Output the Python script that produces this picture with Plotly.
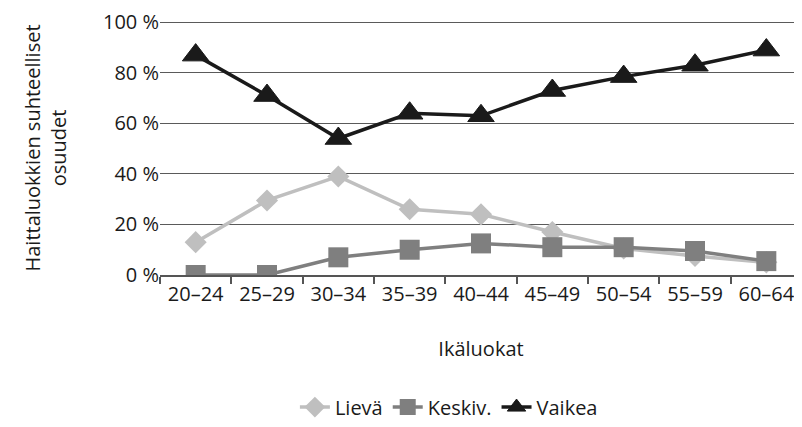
import plotly.graph_objects as go

categories = ["20–24", "25–29", "30–34", "35–39", "40–44", "45–49", "50–54", "55–59", "60–64"]
lieva = [13, 29.5, 39, 26, 24, 17, 10.5, 7.5, 5]
keskiv = [0, 0, 7, 10, 12.5, 11, 11, 9.5, 5.5]
vaikea = [87, 71, 54, 64, 63, 73, 78.5, 83, 89]
y_ticks = [0, 20, 40, 60, 80, 100]
y_labels = ["0 %", "20 %", "40 %", "60 %", "80 %", "100 %"]

font = "Open Sans, Noto Sans, sans-serif"

fig = go.Figure()
fig.add_trace(go.Scatter(x=categories, y=lieva, name="Lievä", mode="lines+markers",
                         line=dict(color="#bfbfbf", width=3.5),
                         marker=dict(symbol="diamond", size=17, color="#bfbfbf")))
fig.add_trace(go.Scatter(x=categories, y=keskiv, name="Keskiv.", mode="lines+markers",
                         line=dict(color="#7f7f7f", width=3.5),
                         marker=dict(symbol="square", size=20, color="#7f7f7f")))
fig.add_trace(go.Scatter(x=categories, y=vaikea, name="Vaikea", mode="lines+markers",
                         line=dict(color="#1a1a1a", width=3.5),
                         marker=dict(symbol="triangle-up", size=23, color="#1a1a1a",
                                     line=dict(color="#1a1a1a", width=1))))

fig.update_layout(
    width=794, height=419,
    margin=dict(l=152, r=0, t=9, b=145),
    paper_bgcolor="white", plot_bgcolor="white",
    font=dict(family=font, size=20, color="#1a1a1a"),
    showlegend=True,
    legend=dict(orientation="h", x=0.45, xanchor="center", y=-0.52, yanchor="middle",
                font=dict(size=20), itemwidth=30),
    xaxis=dict(
        type="category", showgrid=False, showline=True, linecolor="#555555", linewidth=2,
        ticks="outside", tickson="boundaries", ticklen=7, tickcolor="#555555", tickwidth=1.5,
        title=dict(text="Ikäluokat", standoff=36, font=dict(size=20)),
        range=[-0.5, 8.5],
    ),
    yaxis=dict(
        range=[0, 100.5], tickvals=y_ticks, ticktext=y_labels, showgrid=True,
        gridcolor="#5a5a5a", gridwidth=1.3, zeroline=False, showline=False,
        ticks="", ticklen=0, ticklabeloverflow="allow",
        title=dict(text="Haittaluokkien suhteelliset<br>osuudet", standoff=30, font=dict(size=20)),
    ),
)

fig.write_html("out.html")
